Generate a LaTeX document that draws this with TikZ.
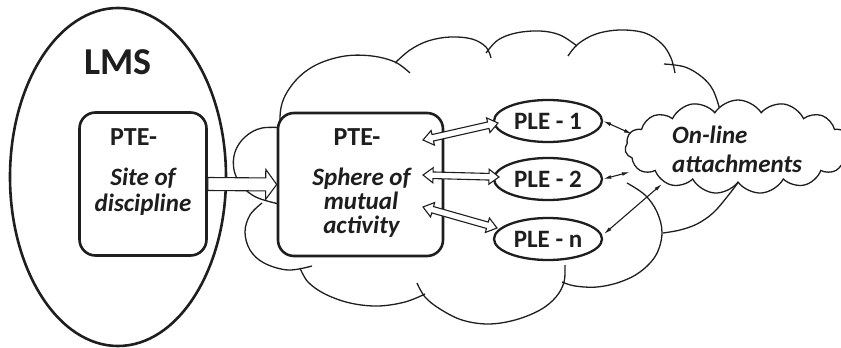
\documentclass[tikz,border=0pt]{standalone}
\usepackage{fontspec}
\setmainfont{Carlito}
\usetikzlibrary{shapes.geometric,shapes.symbols,calc,arrows.meta}
\definecolor{ink}{HTML}{1E1E1E}
\newcommand{\hollowone}[5]{%
  \coordinate (hb) at ($(#2)!#5!(#1)$);
  \draw[hollow] ($(#1)!#3!90:(#2)$) -- ($(hb)!#3!90:(#2)$) -- ($(hb)!#4!90:(#2)$) -- (#2) -- ($(hb)!#4!270:(#2)$) -- ($(hb)!#3!270:(#2)$) -- ($(#1)!#3!270:(#2)$) -- cycle;}
\newcommand{\hollowtwo}[5]{%
  \coordinate (ha) at ($(#1)!#5!(#2)$);
  \coordinate (hb) at ($(#2)!#5!(#1)$);
  \draw[hollow] (#1) -- ($(ha)!#4!90:(#2)$) -- ($(ha)!#3!90:(#2)$) -- ($(hb)!#3!90:(#2)$) -- ($(hb)!#4!90:(#2)$) -- (#2) -- ($(hb)!#4!270:(#2)$) -- ($(hb)!#3!270:(#2)$) -- ($(ha)!#3!270:(#2)$) -- ($(ha)!#4!270:(#2)$) -- cycle;}
\begin{document}
\begin{tikzpicture}[x=1pt,y=-1pt,
  lbox/.style={draw=ink, line width=2.6pt, rounded corners=16pt, fill=white, inner sep=0pt, minimum height=143pt},
  ple/.style={draw=ink, ellipse, line width=2.3pt, fill=white, minimum width=108pt, minimum height=42pt, inner sep=0pt, font=\fontsize{25}{28}\selectfont\bfseries, text=ink},
  cloudline/.style={draw=ink, line width=1.3pt},
  hollow/.style={draw=ink, line width=1.1pt, fill=white, line join=miter},
  thinarr/.style={draw=ink, line width=1.1pt, {Latex[length=8pt,width=3.8pt]}-{Latex[length=8pt,width=3.8pt]}},
  ttl/.style={font=\fontsize{26}{28}\selectfont\bfseries, text=ink, inner sep=0pt},
  itl/.style={font=\fontsize{25}{28}\selectfont\bfseries\itshape, text=ink, inner sep=0pt, anchor=base},
  webcloud/.style={draw=ink, cloud, cloud puffs=15, cloud puff arc=115, cloud ignores aspect, fill=white, line width=1.3pt, minimum width=226pt, minimum height=94pt, inner sep=0pt}
]
\useasboundingbox (0,0) rectangle (841,348);

% big cloud (sphere)
\draw[cloudline] plot[smooth, tension=0.6] coordinates {(284,135) (280,118) (284,98) (298,78) (318,64) (345,56) (372,56) (395,62) (410,73)};
\draw[cloudline] plot[smooth, tension=0.6] coordinates {(395,63) (410,50) (428,41) (450,37) (472,39) (486,47) (491,58)};
\draw[cloudline] plot[smooth, tension=0.6] coordinates {(486,53) (498,40) (516,33) (540,31) (560,35) (577,46)};
\draw[cloudline] plot[smooth, tension=0.6] coordinates {(568,56) (578,44) (596,34) (620,30) (645,33) (662,44) (671,58) (675,73)};
\draw[cloudline] plot[smooth, tension=0.6] coordinates {(664,64) (685,67) (702,77) (713,90) (720,110)};
\draw[cloudline] plot[smooth, tension=0.6] coordinates {(740,180) (727,197) (713,213) (697,224) (680,230) (663,233)};
\draw[cloudline] plot[smooth, tension=0.6] coordinates {(627,183) (645,195) (657,212) (662,233) (656,255) (640,272) (620,282) (597,287) (575,286) (562,282)};
\draw[cloudline] plot[smooth, tension=0.6] coordinates {(565,265) (564,282) (556,297) (540,310) (515,320) (488,324) (462,320) (440,309) (425,297) (417,283)};
\draw[cloudline] plot[smooth, tension=0.6] coordinates {(425,294) (405,302) (378,306) (350,303) (325,294) (308,282) (300,268)};
\draw[cloudline] plot[smooth, tension=0.6] coordinates {(262,203) (250,215) (245,232) (250,250) (264,263) (288,270) (312,266)};
\draw[cloudline] plot[smooth, tension=0.6] coordinates {(288,128) (262,128) (245,137) (235,152) (234,170) (242,186) (258,198) (288,206)};

% LMS
\node[draw=ink, ellipse, line width=2.6pt, minimum width=216pt, minimum height=338pt, inner sep=0pt] (lms) at (118,177) {};
\node[font=\fontsize{38}{40}\selectfont\bfseries, text=ink, inner sep=0pt, anchor=base] (lmst) at (118,74) {LMS};

% boxes
\node[lbox, minimum width=127pt] (box1) at (143,184) {};
\node[lbox, minimum width=165pt] (box2) at (360.5,184.5) {};
\node[ttl, anchor=base west] (pte1) at (110,145) {PTE-};
\node[itl] (b1l1) at (143,185) {Site of};
\node[itl] (b1l2) at (143,211) {discipline};
\node[ttl, anchor=base] (pte2) at (357,145) {PTE-};
\node[itl] (b2l1) at (361.5,185) {Sphere of};
\node[itl] (b2l2) at (361,209) {mutual};
\node[itl] (b2l3) at (361.5,233) {activity};

% PLE
\node[ple] (ple1) at (548,121) {PLE - 1};
\node[ple] (ple2) at (548,179) {PLE - 2};
\node[ple] (ple3) at (548,239) {PLE - n};

% on-line attachments cloud
\node[webcloud] (web) at (738,147) {};
\node[itl, anchor=base west] (webt1) at (672,143) {On-line};
\node[itl, anchor=base west] (webt2) at (672,172) {attachments};

% hollow arrows
\hollowone{box1.east}{box2.west}{6.5pt}{15pt}{11pt}
\coordinate (s1) at (423,140); \coordinate (e1) at (498,123);
\coordinate (s2) at (423,175); \coordinate (e2) at (499,177);
\coordinate (s3) at (423,207); \coordinate (e3) at (497,228);
\hollowtwo{s1}{e1}{3.3pt}{7.5pt}{10pt}
\hollowtwo{s2}{e2}{3.3pt}{7.5pt}{10pt}
\hollowtwo{s3}{e3}{3.3pt}{7.5pt}{10pt}

% thin arrows
\coordinate (t1) at (632,134);
\coordinate (t2) at (630,172);
\coordinate (t3a) at (604,234);
\coordinate (t3) at (662,184);
\draw[thinarr] (ple1.east) -- (t1);
\draw[thinarr] (ple2.east) -- (t2);
\draw[thinarr] (t3a) -- (t3);
\end{tikzpicture}
\end{document}
